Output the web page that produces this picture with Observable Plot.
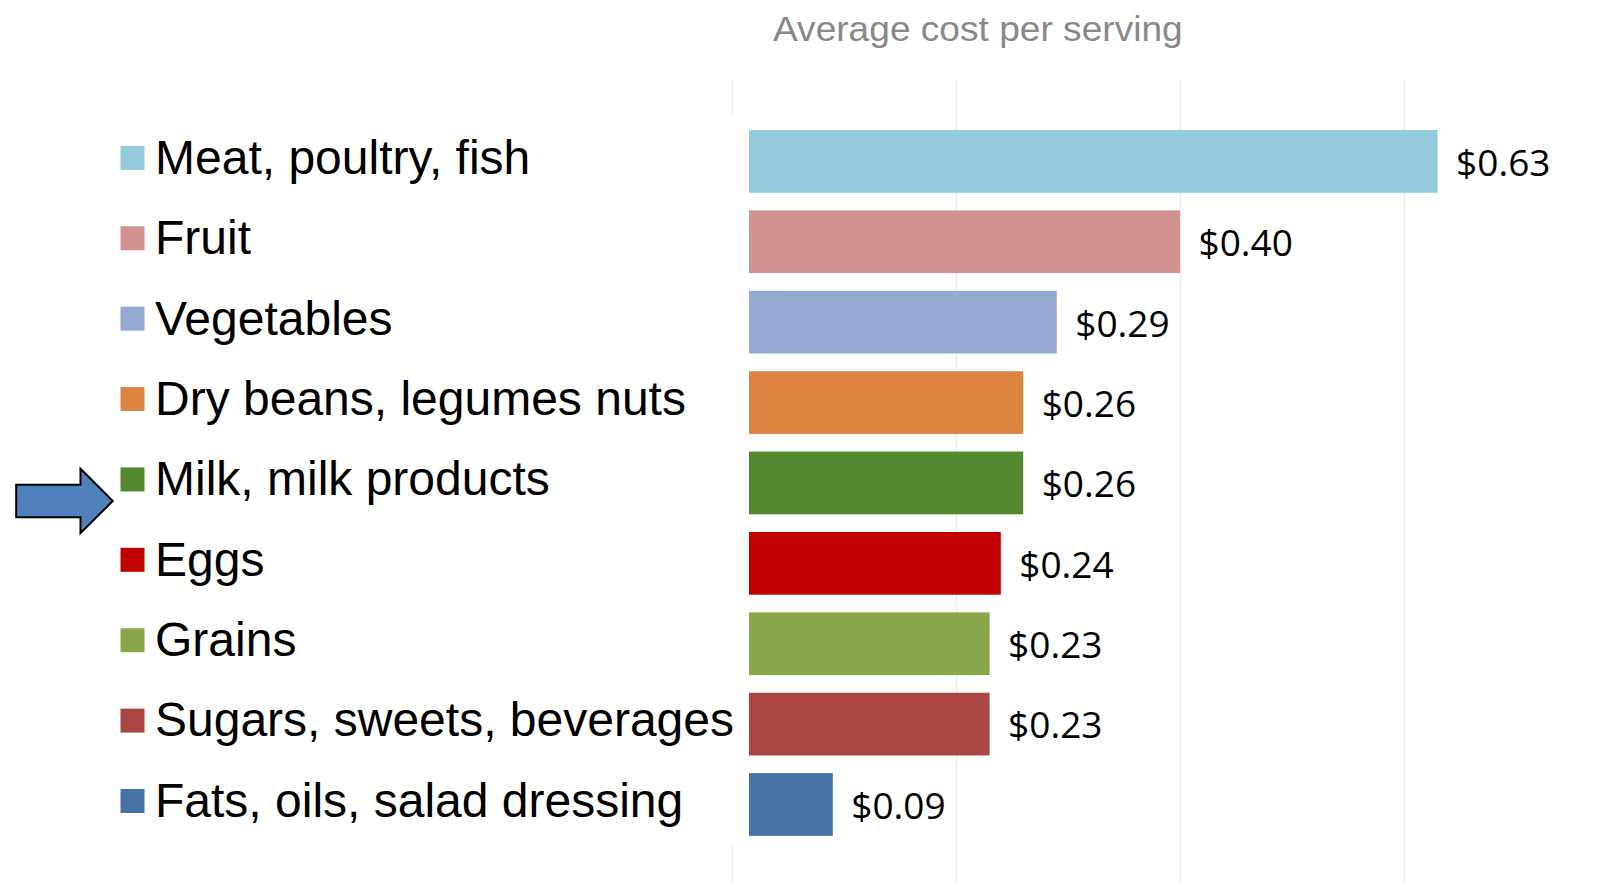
<!DOCTYPE html>
<html>
<head>
<meta charset="utf-8">
<script src="https://cdn.jsdelivr.net/npm/d3@7"></script>
<script src="https://cdn.jsdelivr.net/npm/@observablehq/plot@0.6"></script>
<style>
  html, body { margin: 0; padding: 0; background: #ffffff; }
  #wrap { position: relative; width: 1612px; }
  #title {
    position: relative; height: 60px; width: 1612px;
  }
  #title span {
    position: absolute; left: 773px; top: 11px;
    font-family: "Liberation Sans", Arial, sans-serif;
    font-size: 35px; line-height: 35px; color: #898989;
    white-space: nowrap; transform-origin: 0 0; transform: scaleX(1.06);
  }
  #chart svg { display: block; }
</style>
</head>
<body>
<div id="wrap">
  <div id="title"><span>Average cost per serving</span></div>
  <div id="chart"></div>
</div>
<script>
// ---- data ----
const categories = [
  "Meat, poultry, fish",
  "Fruit",
  "Vegetables",
  "Dry beans, legumes nuts",
  "Milk, milk products",
  "Eggs",
  "Grains",
  "Sugars, sweets, beverages",
  "Fats, oils, salad dressing"
];
const costs = [0.63, 0.40, 0.29, 0.26, 0.26, 0.24, 0.23, 0.23, 0.09];
const colors = ["#93cbdc", "#d39292", "#95a9d3", "#dd8440", "#538a30", "#c00000", "#89a64b", "#aa4644", "#4672a6"];
const gridTicks = [0, 0.2, 0.4, 0.6];
const highlighted = ["Milk, milk products"];

const data = categories.map((name, i) => ({name, value: costs[i]}));

// block-arrow symbol (d3 symbol type interface)
const blockArrow = {
  draw(ctx, size) {
    const r = Math.sqrt(size / Math.PI);
    const sh = 0.335 * r, hh = 0.667 * r, hb = 0.331 * r;
    ctx.moveTo(-r, -sh);
    ctx.lineTo(hb, -sh);
    ctx.lineTo(hb, -hh);
    ctx.lineTo(r, 0);
    ctx.lineTo(hb, hh);
    ctx.lineTo(hb, sh);
    ctx.lineTo(-r, sh);
    ctx.closePath();
  }
};

const fmt = d3.format("$.2f");

const chart = Plot.plot({
  width: 1612,
  height: 823,
  marginTop: 20,
  marginBottom: 0,
  marginLeft: 732,
  marginRight: 96,
  style: {background: "#ffffff", overflow: "visible"},
  x: {domain: [0, 0.7], axis: null},
  y: {domain: categories, range: [61.2, 784.7], paddingInner: 0.22, paddingOuter: 0.11, round: false, axis: null},
  color: {domain: categories, range: colors},
  marks: [
    Plot.ruleX(gridTicks.slice(1), {stroke: "#ebebeb", strokeWidth: 1.5}),
    Plot.ruleX(gridTicks.slice(0, 1), {stroke: "#ebebeb", strokeWidth: 1.5, insetBottom: 767}),
    Plot.ruleX(gridTicks.slice(0, 1), {stroke: "#ebebeb", strokeWidth: 1.5, insetTop: 765}),
    Plot.barX(data, {x: "value", y: "name", fill: "name", insetLeft: 17}),
    Plot.text(data, {
      x: "value", y: "name", text: d => fmt(d.value),
      textAnchor: "start", dx: 18, dy: 2,
      fontSize: 37, fontFamily: "'Open Sans', sans-serif", fill: "#000000"
    }),
    Plot.dot(data, {
      y: "name", frameAnchor: "left", dx: -600, dy: -4,
      symbol: "square", r: 13.54, fill: "name"
    }),
    Plot.text(data, {
      y: "name", frameAnchor: "left", text: "name",
      textAnchor: "start", dx: -577.5, dy: -3.5,
      fontSize: 48, fontFamily: "'Liberation Sans', Arial, sans-serif", fill: "#000000"
    }),
    Plot.dot(highlighted, {
      y: d => d, frameAnchor: "left", dx: -668, dy: 17.5,
      symbol: blockArrow, r: 48.3, fill: "#4f81bd", stroke: "#000000", strokeWidth: 2
    })
  ]
});
document.getElementById("chart").appendChild(chart);
</script>
</body>
</html>
